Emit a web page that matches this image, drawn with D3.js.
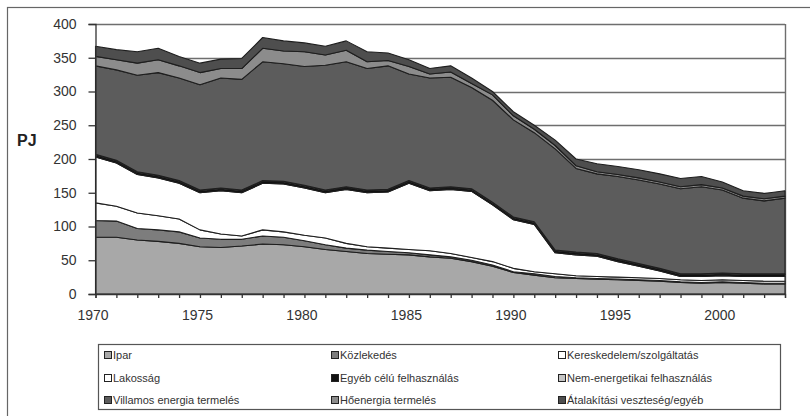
<!DOCTYPE html>
<html>
<head>
<meta charset="utf-8">
<script src="https://cdn.jsdelivr.net/npm/d3@7"></script>
<style>
body { margin: 0; background: #fff; }
text { font-family: Arial, "Liberation Sans", sans-serif; }
</style>
</head>
<body>
<svg id="chart" width="810" height="416"></svg>
<script>
// data (PJ)

var years = [1970,1971,1972,1973,1974,1975,1976,1977,1978,1979,
             1980,1981,1982,1983,1984,1985,1986,1987,1988,1989,
             1990,1991,1992,1993,1994,1995,1996,1997,1998,1999,
             2000,2001,2002,2003];

var yearLabels = [1970, 1975, 1980, 1985, 1990, 1995, 2000];
var yTicks = [0, 50, 100, 150, 200, 250, 300, 350, 400];

var ipar = [84,84,80,78,75,70,69,71,74,73, 70,66,63,60,59,58,55,53,48,41, 32,28,24,23,22,21,20,19,17,16, 17,16,15,15];
var kozlekedes = [25,24,17,17,17,13,12,10,12,11, 9,7,5,5,4,3,3,2,2,2, 1,2,2,1,1,1,1,1,1,1, 1,1,1,1];
var kereskedelem = [26,22,23,21,19,12,8,5,9,8, 8,10,7,5,5,5,6,5,4,5, 5,3,4,3,3,3,3,3,3,3, 3,3,3,3];
var lakossag = [68,64,57,56,53,55,64,64,69,71, 70,67,80,80,83,98,89,95,98,84, 72,70,31,31,30,23,17,11,5,6, 6,6,7,7];
var egyeb = [3,3,3,3,3,3,3,3,3,3, 3,3,3,3,3,3,3,3,3,3, 3,3,3,3,3,3,3,3,3,3, 3,3,3,3];
var nemEnergetikai = [1,1,1,1,1,1,1,1,1,1, 1,1,1,1,1,1,1,1,1,1, 1,1,1,1,1,1,1,1,1,1, 1,1,1,1];
var villamos = [131,134,143,152,152,156,163,164,176,174, 176,185,185,180,183,158,163,162,150,151, 144,132,150,124,118,122,124,125,126,129, 123,112,108,112];
var hoenergia = [14,15,18,19,18,18,14,16,20,19, 22,15,17,10,8,11,6,8,6,8, 6,5,5,4,3,3,3,3,3,3, 3,3,3,3];
var atalakitasi = [15,15,17,17,14,14,14,15,16,15, 13,13,14,15,11,10,8,9,8,5, 6,6,8,10,12,12,12,12,12,12, 9,8,8,8];

var seriesNames = ["Ipar", "Közlekedés", "Kereskedelem/szolgáltatás",
                   "Lakosság", "Egyéb célú felhasználás", "Nem-energetikai felhasználás",
                   "Villamos energia termelés", "Hőenergia termelés", "Átalakítási veszteség/egyéb"];
var seriesValues = [ipar, kozlekedes, kereskedelem, lakossag, egyeb, nemEnergetikai, villamos, hoenergia, atalakitasi];
var seriesColors = ["#a8a8a8", "#7d7d7d", "#ffffff", "#ffffff", "#111111", "#c4c4c4", "#5c5c5c", "#8c8c8c", "#4e4e4e"];

// build rows for d3.stack
var rows = years.map(function(y, i){
    var row = { year: y };
    seriesNames.forEach(function(name, k){
        row[name] = seriesValues[k][i];
    });
    return row;
});

var svg = d3.select('#chart');

// outer chart frame (only top and left edge are inside the picture)
svg.append('rect')
    .attr('x', 7.5).attr('y', 7.5)
    .attr('width', 830).attr('height', 430)
    .attr('fill', 'none')
    .attr('stroke', '#666')
    .attr('stroke-width', 1.2);

// scales
var x = d3.scalePoint()
    .domain(years)
    .range([95.5, 785]);

var y = d3.scaleLinear()
    .domain([0, 400])
    .range([294, 24]);

// gridlines
svg.append('g')
    .selectAll('line')
    .data(yTicks.filter(function(d){ return d > 0; }))
    .enter()
    .append('line')
    .attr('x1', 95.5)
    .attr('x2', 785)
    .attr('y1', function(d){ return Math.round(y(d)) + 0.5; })
    .attr('y2', function(d){ return Math.round(y(d)) + 0.5; })
    .attr('stroke', '#6e6e6e')
    .attr('stroke-width', 1.4);

// right border of plot area
svg.append('line')
    .attr('x1', 785.5).attr('x2', 785.5)
    .attr('y1', y(400)).attr('y2', y(0))
    .attr('stroke', '#6e6e6e')
    .attr('stroke-width', 1.4);

// stacked areas
var stack = d3.stack().keys(seriesNames);
var layers = stack(rows);

var area = d3.area()
    .x(function(d){ return x(d.data.year); })
    .y0(function(d){ return y(d[0]); })
    .y1(function(d){ return y(d[1]); });

svg.append('g')
    .selectAll('path')
    .data(layers)
    .enter()
    .append('path')
    .attr('d', area)
    .attr('fill', function(d, i){ return seriesColors[i]; })
    .attr('stroke', '#1e1e1e')
    .attr('stroke-width', 1.1)
    .attr('stroke-linejoin', 'round');

// y axis
var yAxis = d3.axisLeft(y)
    .tickValues(yTicks)
    .tickSize(7)
    .tickPadding(12)
    .tickFormat(d3.format('d'));

var gy = svg.append('g')
    .attr('transform', 'translate(95.5,0)')
    .call(yAxis);
gy.select('.domain').attr('stroke', '#333').attr('stroke-width', 1.3);
gy.selectAll('.tick line').attr('stroke', '#333').attr('stroke-width', 1.3);
gy.selectAll('.tick text')
    .attr('fill', '#333')
    .style('font-size', '14px');

// x axis
var xAxis = d3.axisBottom(x)
    .tickSize(4)
    .tickPadding(12)
    .tickFormat(function(d){ return yearLabels.indexOf(d) >= 0 ? d : ''; });

var gx = svg.append('g')
    .attr('transform', 'translate(0,294)')
    .call(xAxis);
gx.select('.domain').attr('stroke', '#333').attr('stroke-width', 1.3);
gx.selectAll('.tick line').attr('stroke', '#333').attr('stroke-width', 1.3);
gx.selectAll('.tick text')
    .attr('fill', '#333')
    .attr('dx', -3)
    .style('font-size', '14px');

// axis title
svg.append('text')
    .attr('x', 17)
    .attr('y', 146)
    .attr('fill', '#222')
    .style('font-size', '16px')
    .style('font-weight', 'bold')
    .text('PJ');

// legend
var legendX = [104, 331, 558];
var legendY = [355, 378, 400];

svg.append('rect')
    .attr('x', 98.5).attr('y', 344.5)
    .attr('width', 682).attr('height', 65)
    .attr('fill', '#fff')
    .attr('stroke', '#555')
    .attr('stroke-width', 1.2);

var legend = svg.append('g')
    .selectAll('g')
    .data(seriesNames)
    .enter()
    .append('g')
    .attr('transform', function(d, i){
        return 'translate(' + legendX[i % 3] + ',' + legendY[Math.floor(i / 3)] + ')';
    });

legend.append('rect')
    .attr('x', 0.5).attr('y', -3.5)
    .attr('width', 7).attr('height', 7)
    .attr('fill', function(d, i){ return seriesColors[i]; })
    .attr('stroke', '#222')
    .attr('stroke-width', 1);

legend.append('text')
    .attr('x', 9)
    .attr('y', 4)
    .attr('fill', '#333')
    .style('font-size', '11px')
    .text(function(d){ return d; });
</script>
</body>
</html>
